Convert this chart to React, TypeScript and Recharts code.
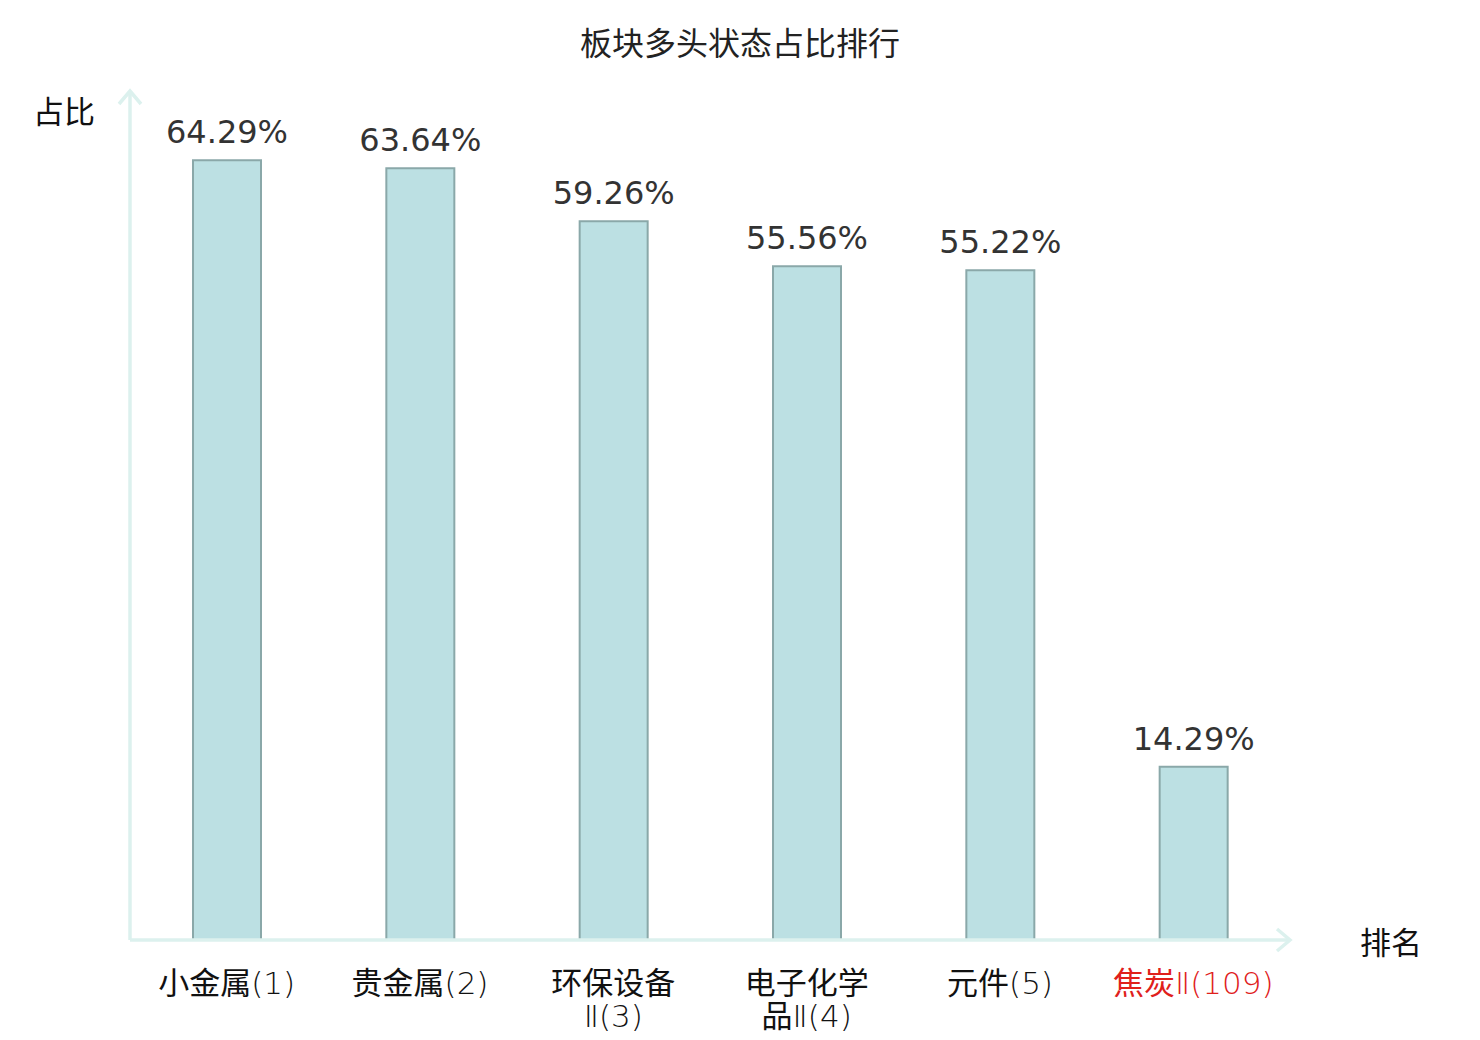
import React from "react"
import { BarChart, Bar, XAxis, YAxis, LabelList } from "recharts"

// 板块多头状态占比排行
const sectors = ["小金属", "贵金属", "环保设备Ⅱ", "电子化学品Ⅱ", "元件", "焦炭Ⅱ"]
const ranks = [1, 2, 3, 4, 5, 109]
const ratios = [64.29, 63.64, 59.26, 55.56, 55.22, 14.29]
// 分行显示的刻度文字
const tickLines = [
  ["小金属(1)"],
  ["贵金属(2)"],
  ["环保设备", "Ⅱ(3)"],
  ["电子化学", "品Ⅱ(4)"],
  ["元件(5)"],
  ["焦炭Ⅱ(109)"],
]

const data = sectors.map((name, i) => ({
  name,
  rank: ranks[i],
  ratio: ratios[i],
}))

const axisColor = "#dcf1ee"
const cjkFont = "'Noto Sans CJK SC', sans-serif"
const latinFont = "'DejaVu Sans', sans-serif"

// 中文用黑体, 其余字符用细体
function splitRuns(s: string) {
  const runs: { text: string; cjk: boolean }[] = []
  for (const ch of s) {
    const cjk = /[\u4e00-\u9fff]/.test(ch)
    const last = runs[runs.length - 1]
    if (last && last.cjk === cjk) last.text += ch
    else runs.push({ text: ch, cjk })
  }
  return runs
}

function CategoryTick(props: any) {
  const { x, y, payload } = props
  const lines = tickLines[payload.index] ?? [payload.value]
  const isLast = payload.index === sectors.length - 1
  return (
    <g transform={`translate(${x},${y})`}>
      {lines.map((line, i) => (
        <text
          key={i}
          x={0}
          y={46 + i * 33}
          textAnchor="middle"
          fontSize={31}
          fill={isLast ? "#e0201b" : "#111"}
        >
          {splitRuns(line).map((r, j) => (
            <tspan
              key={j}
              fontFamily={r.cjk ? cjkFont : latinFont}
              fontWeight={r.cjk ? 400 : 200}
            >
              {r.text}
            </tspan>
          ))}
        </text>
      ))}
    </g>
  )
}

export default function App() {
  return (
    <div style={{ position: "absolute", left: 0, top: 0, width: 1480, height: 1040, background: "#fff" }}>
      <div
        style={{
          position: "absolute",
          left: 0,
          width: 1480,
          top: 21,
          textAlign: "center",
          fontFamily: cjkFont,
          fontSize: 32,
          lineHeight: "40px",
          color: "#222",
        }}
      >
        板块多头状态占比排行
      </div>
      <div style={{ position: "absolute", left: 33, top: 90, fontFamily: cjkFont, fontSize: 31, lineHeight: "40px", color: "#111" }}>
        占比
      </div>
      <div style={{ position: "absolute", left: 1360, top: 921, fontFamily: cjkFont, fontSize: 31, lineHeight: "40px", color: "#111" }}>
        排名
      </div>
      <BarChart
        width={1480}
        height={1040}
        data={data}
        margin={{ top: 91, left: 120, right: 190, bottom: 0 }}
        barCategoryGap={0}
      >
        <defs>
          <marker
            id="axisArrow"
            markerUnits="userSpaceOnUse"
            markerWidth={30}
            markerHeight={30}
            viewBox="-20 -15 30 30"
            refX={0}
            refY={0}
            orient="auto-start-reverse"
          >
            <path d="M -13 -11 L 0 0 L -13 11" fill="none" stroke={axisColor} strokeWidth={3.5} />
          </marker>
        </defs>
        <XAxis
          dataKey="name"
          interval={0}
          height={100}
          tickLine={false}
          axisLine={{ stroke: axisColor, strokeWidth: 3.5, markerEnd: "url(#axisArrow)" }}
          tick={<CategoryTick />}
        />
        <YAxis
          width={10}
          domain={[0, 70]}
          tick={false}
          tickLine={false}
          axisLine={{ stroke: axisColor, strokeWidth: 3.5, markerStart: "url(#axisArrow)" }}
        />
        <Bar dataKey="ratio" barSize={68} fill="#bce0e3" stroke="#8aa8a9" strokeWidth={2} isAnimationActive={false}>
          <LabelList
            dataKey="ratio"
            position="top"
            offset={17}
            formatter={(v: any) => `${Number(v).toFixed(2)}%`}
            fill="#333"
            fontSize={32}
            fontFamily={latinFont}
          />
        </Bar>
      </BarChart>
    </div>
  )
}
